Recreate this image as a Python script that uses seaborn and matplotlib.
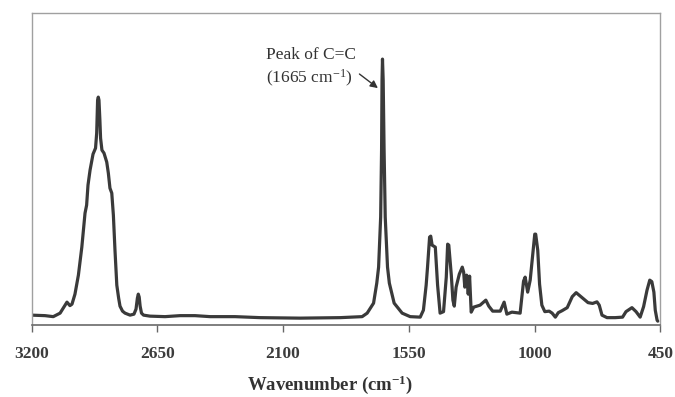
import matplotlib
matplotlib.use("Agg")
import matplotlib.pyplot as plt
import seaborn as sns
import pandas as pd

# Raman spectrum (wavenumber in cm^-1, intensity in arbitrary units)
wavenumber = [
    3200, 3141, 3105, 3075, 3053, 3045, 3032, 3023, 3010, 2995,
    2980, 2966, 2959, 2953, 2944, 2931, 2920, 2915, 2911, 2908,
    2905, 2901, 2898, 2892, 2883, 2871, 2864, 2857, 2849, 2842,
    2835, 2827, 2819, 2813, 2802, 2791, 2769, 2752, 2743, 2737,
    2733, 2729, 2725, 2719, 2710, 2682, 2616, 2550, 2485, 2419,
    2310, 2200, 2025, 1850, 1754,
    1732, 1704, 1690, 1682, 1673, 1669, 1667, 1665, 1662, 1658,
    1653, 1643, 1635, 1614, 1579, 1544, 1500,
    1486, 1474, 1468, 1459, 1454, 1448, 1434, 1424, 1413, 1398,
    1386, 1380, 1375, 1371, 1364, 1357, 1351, 1343, 1329, 1316,
    1310, 1305, 1297, 1290, 1284, 1277, 1266, 1238, 1213, 1200,
    1183, 1150, 1133, 1121, 1099, 1063, 1048, 1041, 1030, 1019,
    1007, 999, 995, 986, 978, 968, 955, 936, 923, 909,
    896, 879, 857, 835, 818, 800, 766, 746, 727, 717,
    705, 683, 647, 615, 600, 574, 556, 538, 523, 508,
    496, 487, 478, 472, 464, 461,
]
intensity = [
    1, 0.5, -0.5, 3, 11, 14, 10.5, 12, 22, 41,
    69, 103, 111, 131, 146, 162, 168, 183, 216, 219,
    216, 196, 178, 166, 163, 154, 143, 128, 123, 101,
    66, 31, 18, 10, 5, 3, 1, 2, 7, 18,
    22, 19, 10, 3, 1, 0, -0.5, 0.5, 0.5, -0.5,
    -0.5, -1.5, -2, -1.5, -0.5,
    3, 13, 33, 49, 99, 166, 236, 257, 236, 166,
    99, 49, 33, 13, 3, -0.5, -1,
    6, 31, 49, 79, 80, 71, 69, 31, 3, 4.5,
    39, 72, 71, 60, 41, 16, 10, 29, 42, 49,
    44, 29, 41, 22, 40, 4, 9, 11, 16, 10,
    5, 5, 14, 2, 4, 3, 35, 39, 24, 36,
    63, 82, 82, 66, 32, 11, 4.5, 5, 3, -1,
    3.5, 5.5, 8.5, 19.5, 23.5, 20, 13.5, 12.7, 14.3, 11,
    1, -1.5, -1.5, -1, 4.5, 8.5, 4.5, -1, 9.5, 26,
    36, 34.5, 24, 6, -4, -5,
]

x_ticks = [3200, 2650, 2100, 1550, 1000, 450]
x_label = "Wavenumber (cm$^{\\mathregular{-1}}$)"
annot_text = "Peak of C=C\n(1665 cm$^{\\mathregular{-1}}$)"
annot_peak = (1685, 228)
annot_pos = (1977, 248)

df = pd.DataFrame({"wavenumber": wavenumber, "intensity": intensity})

sns.set_style("white")
plt.rcParams["font.family"] = ["Liberation Serif", "DejaVu Serif"]
plt.rcParams["mathtext.default"] = "regular"

fig = plt.figure(figsize=(6.75, 3.97), dpi=100)
ax = fig.add_axes([0.0467, 0.181, 0.9315, 0.786])

sns.lineplot(data=df, x="wavenumber", y="intensity", ax=ax, color="#3a3a3a",
             linewidth=2.3, estimator=None, sort=False)

ax.set_xlim(3200, 450)
ax.set_ylim(-9, 303)
ax.set_xticks(x_ticks)
ax.set_xticklabels([str(t) for t in x_ticks], fontsize=12.5, fontweight="bold", color="#3c3c3c")
ax.set_yticks([])
ax.set_ylabel("")
ax.set_xlabel(x_label, fontsize=13.5, fontweight="bold", color="#333333")
ax.xaxis.set_label_coords(0.475, -0.155)
ax.tick_params(axis="x", bottom=True, direction="out", length=5, width=1, color="#666666", pad=10)

for side in ["top", "left", "right"]:
    ax.spines[side].set_color("#a0a0a0")
    ax.spines[side].set_linewidth(1.0)
ax.spines["bottom"].set_color("#6a6a6a")
ax.spines["bottom"].set_linewidth(1.2)

ax.annotate(annot_text, xy=annot_peak, xytext=annot_pos, textcoords="data",
            ha="center", va="center", multialignment="left", fontsize=12.5,
            color="#333333", linespacing=1.3,
            arrowprops=dict(arrowstyle="-|>", color="#333333", lw=1.0,
                            shrinkA=0, shrinkB=0, relpos=(0.92, 0.55),
                            mutation_scale=11))

fig.savefig("out.png", dpi=100, facecolor="white")
